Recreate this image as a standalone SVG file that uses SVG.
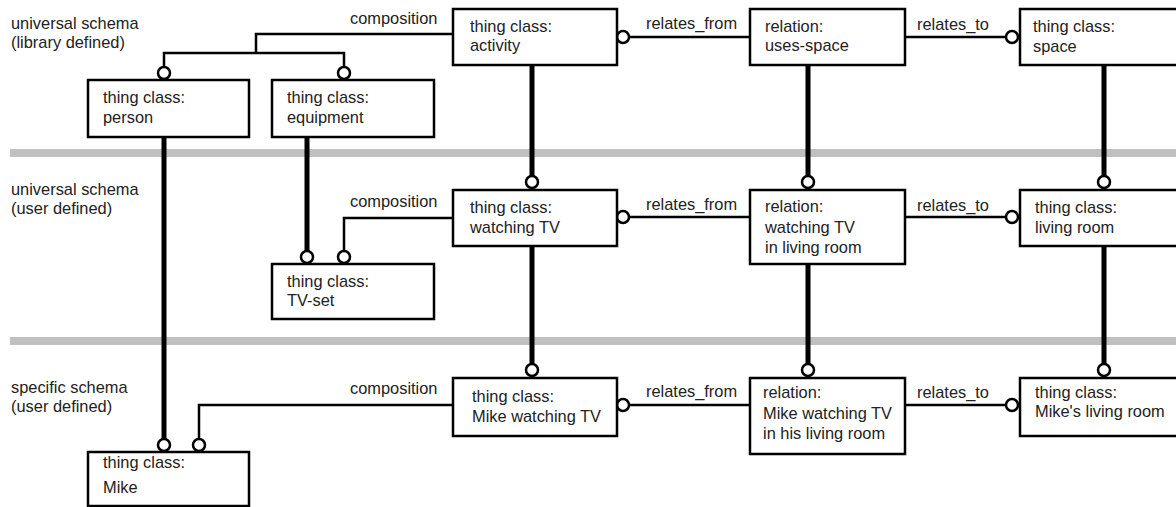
<svg xmlns="http://www.w3.org/2000/svg" width="1176" height="507" viewBox="0 0 1176 507">
<style>
text{font-family:"Liberation Sans",Arial,sans-serif;font-size:16.4px;fill:#222}
.box{fill:#fff;stroke:#000;stroke-width:2.5}
.band{fill:#c0c0c0}
.thin{fill:none;stroke:#000;stroke-width:2.5}
.thick{fill:none;stroke:#000;stroke-width:5}
.ring{fill:#fff;stroke:#000;stroke-width:2.5}
</style>
<rect width="1176" height="507" fill="#fff"/>
<g id="bands">
<rect class="band" x="10" y="149" width="1166" height="8"/>
<rect class="band" x="10" y="337" width="1166" height="8"/>
</g>
<g id="layer-labels">
<text x="11" y="29">universal schema</text>
<text x="11" y="48">(library defined)</text>
<text x="11" y="195">universal schema</text>
<text x="11" y="214">(user defined)</text>
<text x="11" y="393">specific schema</text>
<text x="11" y="412">(user defined)</text>
</g>
<g id="connectors">
<!-- specialisation (thick) -->
<path class="thick" d="M164 137V439"/>
<path class="thick" d="M307 137V251"/>
<path class="thick" d="M532 65V176M532 246V364"/>
<path class="thick" d="M808 65V176M808 264V364"/>
<path class="thick" d="M1104 65V176M1104 246V364"/>
<!-- composition -->
<path class="thin" d="M453 34H256V53H164V67M256 53H344V67"/>
<path class="thin" d="M453 218H344V251"/>
<path class="thin" d="M453 405H199V439"/>
<!-- relates -->
<path class="thin" d="M629 37H750M905 37H1006"/>
<path class="thin" d="M629 217H750M905 217H1006"/>
<path class="thin" d="M629 405H750M905 405H1006"/>
<!-- rings -->
<circle class="ring" cx="164" cy="73" r="6"/>
<circle class="ring" cx="344" cy="73" r="6"/>
<circle class="ring" cx="307" cy="257" r="6"/>
<circle class="ring" cx="344" cy="257" r="6"/>
<circle class="ring" cx="164" cy="445" r="6"/>
<circle class="ring" cx="199" cy="445" r="6"/>
<circle class="ring" cx="532" cy="182" r="6"/>
<circle class="ring" cx="808" cy="182" r="6"/>
<circle class="ring" cx="1104" cy="182" r="6"/>
<circle class="ring" cx="532" cy="370" r="6"/>
<circle class="ring" cx="808" cy="370" r="6"/>
<circle class="ring" cx="1104" cy="370" r="6"/>
<circle class="ring" cx="623" cy="37" r="6"/>
<circle class="ring" cx="623" cy="217" r="6"/>
<circle class="ring" cx="623" cy="405" r="6"/>
<circle class="ring" cx="1012" cy="37" r="6"/>
<circle class="ring" cx="1012" cy="217" r="6"/>
<circle class="ring" cx="1012" cy="405" r="6"/>
<!-- labels -->
<text x="350" y="24">composition</text>
<text x="350" y="207">composition</text>
<text x="350" y="394">composition</text>
<text x="646" y="29">relates_from</text>
<text x="646" y="210">relates_from</text>
<text x="646" y="397">relates_from</text>
<text x="917" y="30">relates_to</text>
<text x="917" y="211">relates_to</text>
<text x="917" y="398">relates_to</text>
</g>
<g id="node-activity"><rect class="box" x="453" y="9" width="164" height="56"/><text x="470" y="32">thing class:</text><text x="470" y="51">activity</text></g>
<g id="node-uses-space"><rect class="box" x="750" y="9" width="155" height="56"/><text x="765" y="32">relation:</text><text x="765" y="51">uses-space</text></g>
<g id="node-space"><rect class="box" x="1020" y="9" width="170" height="56"/><text x="1033" y="32">thing class:</text><text x="1033" y="52">space</text></g>
<g id="node-person"><rect class="box" x="88" y="80" width="161" height="57"/><text x="103" y="103">thing class:</text><text x="103" y="123">person</text></g>
<g id="node-equipment"><rect class="box" x="272" y="80" width="162" height="57"/><text x="287" y="103">thing class:</text><text x="287" y="123">equipment</text></g>
<g id="node-watching-tv"><rect class="box" x="453" y="190" width="164" height="56"/><text x="470" y="213">thing class:</text><text x="470" y="233">watching TV</text></g>
<g id="node-watching-tv-in-living-room"><rect class="box" x="750" y="190" width="155" height="74"/><text x="765" y="212">relation:</text><text x="765" y="233">watching TV</text><text x="765" y="253">in living room</text></g>
<g id="node-living-room"><rect class="box" x="1020" y="190" width="170" height="56"/><text x="1035" y="213">thing class:</text><text x="1035" y="233">living room</text></g>
<g id="node-tv-set"><rect class="box" x="272" y="264" width="162" height="55"/><text x="287" y="287">thing class:</text><text x="287" y="306">TV-set</text></g>
<g id="node-mike-watching-tv"><rect class="box" x="453" y="378" width="164" height="58"/><text x="472" y="402">thing class:</text><text x="472" y="422">Mike watching TV</text></g>
<g id="node-mike-relation"><rect class="box" x="750" y="378" width="155" height="76"/><text x="763" y="398">relation:</text><text x="763" y="419">Mike watching TV</text><text x="763" y="439">in his living room</text></g>
<g id="node-mikes-living-room"><rect class="box" x="1020" y="378" width="170" height="58"/><text x="1035" y="398">thing class:</text><text x="1035" y="417">Mike's living room</text></g>
<g id="node-mike"><rect class="box" x="88" y="452" width="161" height="54"/><text x="103" y="468">thing class:</text><text x="103" y="493">Mike</text></g>
</svg>
